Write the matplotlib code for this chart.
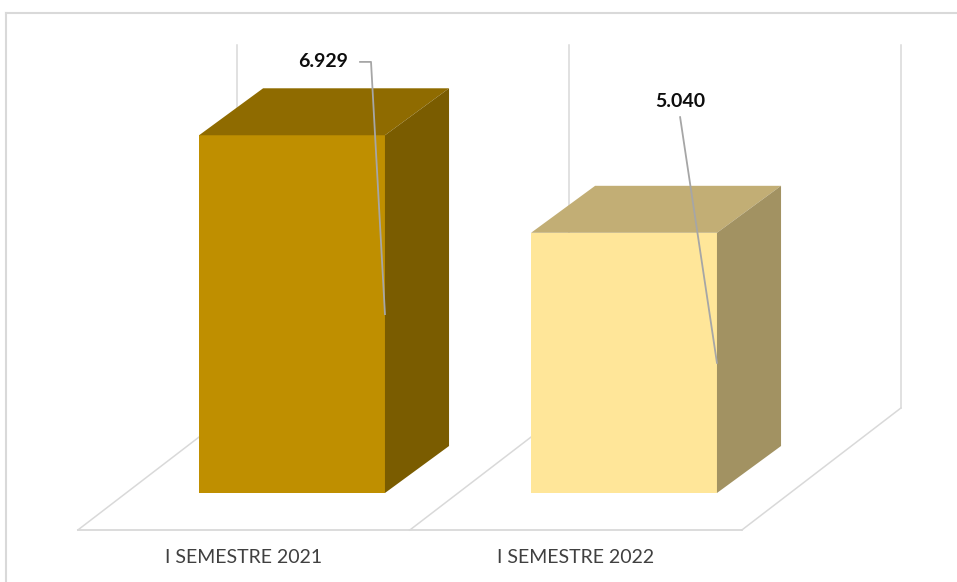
import matplotlib
matplotlib.use("Agg")
import matplotlib.pyplot as plt
from matplotlib.patches import Polygon
from matplotlib.lines import Line2D

# data
categories = ["I SEMESTRE 2021", "I SEMESTRE 2022"]
values = [6929, 5040]
value_labels = ["6.929", "5.040"]

# colours (front, top, side)
front_colors = ["#BF8F00", "#FFE699"]
top_colors = ["#8F6B00", "#C2AE75"]
side_colors = ["#7A5C00", "#A29262"]

plt.rcParams['font.family'] = ['Lato', 'DejaVu Sans']

fig = plt.figure(figsize=(9.57, 5.82), dpi=100)
ax = fig.add_axes([0, 0, 1, 1])
ax.set_xlim(-0.8795, 2.003)
ax.set_ylim(-1724, 9549)
ax.axis('off')

# pseudo 3d geometry
bar_w = 0.56
bar_dx, bar_dy = 0.193, 910        # bar depth
floor_off_x, floor_y = -0.145, -717  # floor front edge relative to categories
floor_dx, floor_dy = 0.479, 2363   # floor depth
wall_top = 8678
grid_col = "#D9D9D9"

n = len(categories)
edges = [i - 0.5 + floor_off_x for i in range(n + 1)]

# floor
ax.plot([edges[0], edges[-1]], [floor_y, floor_y], color=grid_col, lw=1.3, zorder=1)
for e in edges:
    ax.plot([e, e + floor_dx], [floor_y, floor_y + floor_dy], color=grid_col, lw=1.1, zorder=1)
    # back wall vertical gridlines
    ax.plot([e + floor_dx, e + floor_dx], [floor_y + floor_dy, wall_top],
            color=grid_col, lw=1.1, zorder=1)

# bars
for i, v in enumerate(values):
    x0, x1 = i - bar_w / 2, i + bar_w / 2
    ax.add_patch(Polygon([(x0, 0), (x1, 0), (x1, v), (x0, v)],
                         closed=True, facecolor=front_colors[i], edgecolor='none', zorder=3))
    ax.add_patch(Polygon([(x0, v), (x1, v), (x1 + bar_dx, v + bar_dy), (x0 + bar_dx, v + bar_dy)],
                         closed=True, facecolor=top_colors[i], edgecolor='none', zorder=3))
    ax.add_patch(Polygon([(x1, 0), (x1 + bar_dx, bar_dy), (x1 + bar_dx, v + bar_dy), (x1, v)],
                         closed=True, facecolor=side_colors[i], edgecolor='none', zorder=3))

# category labels under the floor
for i, c in enumerate(categories):
    ax.text(i + floor_off_x, -1250, c, ha='center', va='center',
            fontsize=14, color='#404040', zorder=5)

# value labels with leader lines
leader = "#A6A6A6"
label_pos = [(0.093, 8350), (1.169, 7590)]
for i, v in enumerate(values):
    lx, ly = label_pos[i]
    tx = i + bar_w / 2
    ax.text(lx, ly, value_labels[i], ha='center', va='center',
            fontsize=14, fontweight='bold', color='#0D0D0D', zorder=6)
    if i == 0:
        ax.plot([lx + 0.112, lx + 0.145, tx], [ly, ly, v / 2],
                color=leader, lw=1.3, zorder=5)
    else:
        ax.plot([lx, tx], [ly - 310, v / 2], color=leader, lw=1.3, zorder=5)

# chart border
fig.add_artist(Line2D([6 / 957, 1], [1 - 13 / 582, 1 - 13 / 582],
                      transform=fig.transFigure, color=grid_col, lw=1.5))
fig.add_artist(Line2D([6 / 957, 6 / 957], [0, 1 - 13 / 582],
                      transform=fig.transFigure, color=grid_col, lw=1.5))

fig.savefig("out.png", dpi=100)
